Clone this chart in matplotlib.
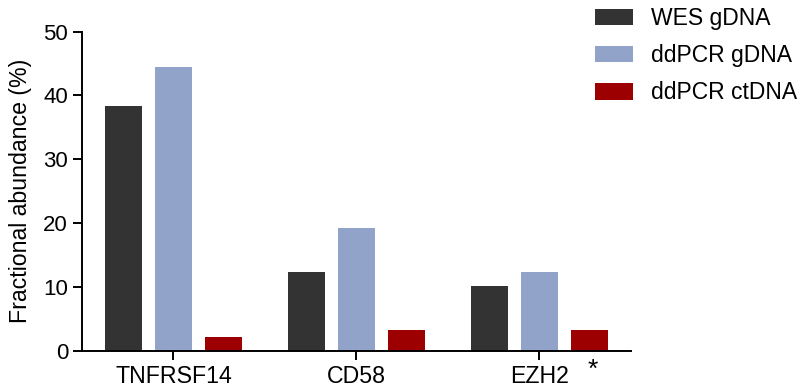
import matplotlib
matplotlib.use("Agg")
import matplotlib.pyplot as plt
import numpy as np

plt.rcParams['font.family'] = ['Liberation Sans', 'DejaVu Sans']

genes = ["TNFRSF14", "CD58", "EZH2"]
series_names = ["WES gDNA", "ddPCR gDNA", "ddPCR ctDNA"]
wes_gdna = [38.3, 12.3, 10.2]
ddpcr_gdna = [44.4, 19.3, 12.3]
ddpcr_ctdna = [2.2, 3.3, 3.3]
colors = ["#333333", "#91A3C9", "#9C0000"]

fig = plt.figure(figsize=(8.03, 3.91), dpi=100)
ax = fig.add_axes([0.1021, 0.1031, 0.6837, 0.8159])

x = np.arange(len(genes))
width = 0.205
step = 0.273
for i, (vals, name, c) in enumerate(zip([wes_gdna, ddpcr_gdna, ddpcr_ctdna], series_names, colors)):
    ax.bar(x + (i - 1) * step, vals, width, color=c, label=name, linewidth=0)

ax.set_xlim(-0.5, 2.5)
ax.set_ylim(0, 50)
ax.set_yticks([0, 10, 20, 30, 40, 50])
ax.set_xticks(x)
ax.set_xticklabels(genes, fontsize=16.7)
ax.set_ylabel("Fractional abundance (%)", fontsize=16.7, labelpad=8)

for s in ["top", "right"]:
    ax.spines[s].set_visible(False)
for s in ["left", "bottom"]:
    ax.spines[s].set_linewidth(1.4)
ax.tick_params(axis="both", width=1.4, length=6.5, colors="black")
ax.tick_params(axis="y", pad=3.5, labelsize=16)
ax.tick_params(axis="x", pad=4)

# significance marker next to the EZH2 group
ax.annotate("*", xy=(2.293, 0), xycoords=("data", "data"), xytext=(0, -13.7),
            textcoords="offset points", ha="center", va="center", fontsize=19)

leg = ax.legend(loc="upper left", bbox_to_anchor=(595 / 803, 1 - 7 / 391),
                bbox_transform=fig.transFigure, frameon=False, fontsize=16.5,
                handlelength=1.68, handleheight=0.73, handletextpad=0.76,
                labelspacing=0.62, borderpad=0, borderaxespad=0)

fig.savefig("out.png", dpi=100)
